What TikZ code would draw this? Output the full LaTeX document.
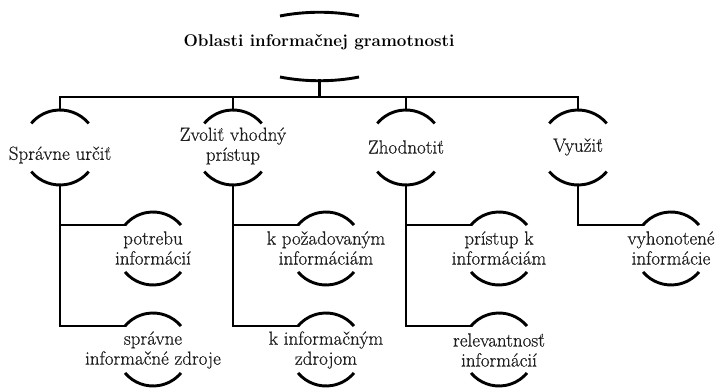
\documentclass[tikz,border=0pt]{standalone}
\usepackage{fontspec}
\newfontfamily\lblfont{Latin Modern Roman}[FakeBold=0.6]
\begin{document}
\begin{tikzpicture}[x=1pt,y=1pt,
  conn/.style={line width=2.9pt,line cap=rect,line join=miter,draw=black},
  arcline/.style={line width=2.9pt,draw=black},
  lbl/.style={align=center,inner sep=0pt,text=black!88,font=\lblfont\fontsize{19}{20}\selectfont},
  ttl/.style={align=center,inner sep=0pt,text=black,font=\fontsize{17}{21}\selectfont\bfseries},
  ringarcs/.pic={
    \draw[arcline] (40:#1pt) arc (40:140:#1pt);
    \draw[arcline] (220:#1pt) arc (220:320:#1pt);
    \coordinate (-t) at (90:#1pt);
    \coordinate (-b) at (270:#1pt);
    \coordinate (-l) at (140:#1pt);
  }]
\useasboundingbox (0,0) rectangle (715,388);

% root
\node[ttl] (root) at (319,346) {Oblasti informačnej gramotnosti};
\draw[arcline] (280,372) .. controls (305,377) and (334,377) .. (359,372);
\draw[arcline] (280,311) .. controls (305,306) and (334,306) .. (359,311);
\coordinate (root-b) at (319.5,307.2);
\coordinate (bus) at (319.5,291);

% level 1
\pic (n1) at (60,240.5) {ringarcs=37.5};
\pic (n2) at (233,240.5) {ringarcs=37.5};
\pic (n3) at (406,240.5) {ringarcs=37.5};
\pic (n4) at (578,240.5) {ringarcs=37.5};
\node[lbl] (t1) at (60,233) {Správne určiť};
\node[lbl] (t2) at (233,242) {Zvoliť vhodný\\prístup};
\node[lbl] (t3) at (406,241) {Zhodnotiť};
\node[lbl] (t4) at (578,241) {Využiť};

% level 2
\pic (a1) at (153,139.5) {ringarcs=36.5};
\pic (b1) at (153,38.5) {ringarcs=36.5};
\pic (a2) at (326,139.5) {ringarcs=36.5};
\pic (b2) at (326,38.5) {ringarcs=36.5};
\pic (a3) at (499,139.5) {ringarcs=36.5};
\pic (b3) at (499,38.5) {ringarcs=36.5};
\pic (a4) at (671,139.5) {ringarcs=36.5};

\node[lbl] (ta1) at (153,140) {potrebu\\informácií};
\node[lbl] (tb1) at (153,38) {správne\\informačné zdroje};
\node[lbl] (ta2) at (326,140) {k požadovaným\\informáciám};
\node[lbl] (tb2) at (326,38) {k informačným\\zdrojom};
\node[lbl] (ta3) at (499,140) {prístup k\\informáciám};
\node[lbl] (tb3) at (499,38) {relevantnosť\\informácií};
\node[lbl] (ta4) at (671,140) {vyhonotené\\informácie};

% connectors
\draw[conn] (root-b) -- (bus);
\draw[conn] (n1-t) -- (n1-t |- bus) -- (n4-t |- bus) -- (n4-t);
\draw[conn] (n2-t) -- (n2-t |- bus);
\draw[conn] (n3-t) -- (n3-t |- bus);

\draw[conn] (n1-b) |- (b1-l);
\draw[conn] (n1-b |- a1-l) -- (a1-l);
\draw[conn] (n2-b) |- (b2-l);
\draw[conn] (n2-b |- a2-l) -- (a2-l);
\draw[conn] (n3-b) |- (b3-l);
\draw[conn] (n3-b |- a3-l) -- (a3-l);
\draw[conn] (n4-b) |- (a4-l);
\end{tikzpicture}
\end{document}
